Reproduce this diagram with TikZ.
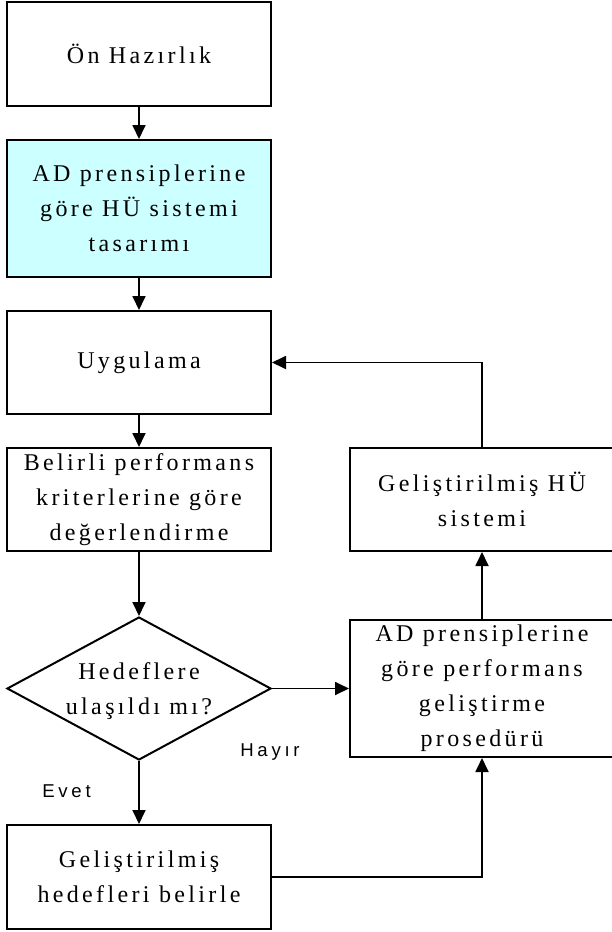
\documentclass[tikz,border=0pt]{standalone}
\usepackage{fontspec}
\setmainfont{Liberation Serif}[LetterSpace=14]
\newfontfamily\labfont{Liberation Sans}[LetterSpace=20]
\usetikzlibrary{arrows.meta,shapes.geometric}
\definecolor{lightcyan}{HTML}{CCFFFF}
\begin{document}
\begin{tikzpicture}[x=1pt,y=-1pt,
  every node/.style={font=\fontsize{24}{35}\selectfont, align=center, inner sep=0pt},
  box/.style={draw=black, line width=2pt, minimum width=264pt, fill=white},
  conn/.style={line width=1.8pt, -{Triangle[length=14pt,width=13pt]}},
  lab/.style={font=\labfont\fontsize{18.6}{20}\selectfont, anchor=base}]
\useasboundingbox (0,0) rectangle (611,932);
\node[box, minimum height=104pt] (b1) at (139,54) {Ön Hazırlık};
\node[box, minimum height=137pt, fill=lightcyan] (b2) at (139,208.5) {AD prensiplerine\\göre HÜ sistemi\\tasarımı};
\node[box, minimum height=103pt] (b3) at (139,362.5) {Uygulama};
\node[box, minimum height=103pt] (b4) at (139,499.5) {Belirli performans\\kriterlerine göre\\değerlendirme};
\node[diamond, draw=black, line width=2pt, minimum width=264pt, minimum height=143pt] (d) at (139,688.5) {};
\node (dt) at (139,691) {Hedeflere\\ulaşıldı mı?};
\node[box, minimum height=104pt] (b6) at (139,877) {Geliştirilmiş\\hedefleri belirle};
\node[box, minimum height=103pt] (r1) at (482,499.5) {Geliştirilmiş HÜ\\sistemi};
\node[box, minimum height=137pt] (r2) at (482,688.5) {AD prensiplerine\\göre performans\\geliştirme\\prosedürü};
\node[lab] (hayir) at (270,756) {Hayır};
\node[lab] (evet) at (66.5,797) {Evet};
\draw[conn] (b1.south) -- (b2.north);
\draw[conn] (b2.south) -- (b3.north);
\draw[conn] (b3.south) -- (b4.north);
\draw[conn] (b4.south) -- (d.north);
\draw[conn] (d.south) -- (b6.north);
\draw[conn] (d.east) -- (r2.west);
\draw[conn] (r2.north) -- (r1.south);
\draw[conn] (r1.north) |- (b3.east);
\draw[conn] (b6.east) -| (r2.south);
\end{tikzpicture}
\end{document}
